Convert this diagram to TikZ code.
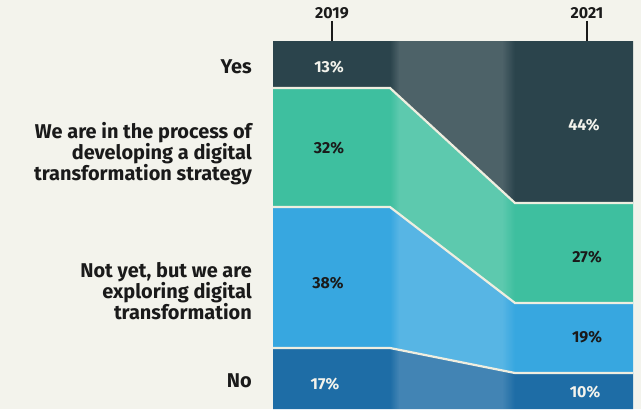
\documentclass[tikz,border=0pt]{standalone}
\usepackage{fontspec}
\setmainfont{Fira Sans}
\usetikzlibrary{fadings}
\definecolor{bgcream}{HTML}{F3F3EC}
\definecolor{sepcream}{HTML}{EFEEE0}
\definecolor{inkdark}{HTML}{1A1A1A}
\definecolor{yesdark}{HTML}{2B444C}
\definecolor{procgreen}{HTML}{3EBF9F}
\definecolor{notblue}{HTML}{37A7E0}
\definecolor{nonavy}{HTML}{1E6DA6}
\tikzfading[name=fadein, left color=transparent!100, right color=transparent!0]
\tikzfading[name=fadeout, left color=transparent!0, right color=transparent!100]

\begin{document}
\begin{tikzpicture}[x=1bp,y=-1bp]
\tikzstyle{every node}=[inner sep=2bp]
\tikzstyle{answer}=[anchor=east,align=right,text=inkdark,font=\fontsize{20}{21}\selectfont\bfseries]
\tikzstyle{pct}=[font=\fontsize{16}{18}\selectfont\bfseries]
\tikzstyle{year}=[text=inkdark,font=\fontsize{16}{18}\selectfont\bfseries]
\tikzstyle{sep}=[draw=sepcream,line width=2.2bp]
\fill[bgcream] (0,0) rectangle (641,409);
\useasboundingbox (0,0) rectangle (641,409);
% the four bands
\fill[yesdark] (273,41) -- (633,41) -- (633,203) -- (515,203) -- (390,88) -- (273,88) -- cycle;
\fill[procgreen] (273,88) -- (390,88) -- (515,203) -- (633,203) -- (633,303) -- (515,303) -- (390,207) -- (273,207) -- cycle;
\fill[notblue] (273,207) -- (390,207) -- (515,303) -- (633,303) -- (633,373) -- (515,373) -- (390,348) -- (273,348) -- cycle;
\fill[nonavy] (273,348) -- (390,348) -- (515,373) -- (633,373) -- (633,409) -- (273,409) -- cycle;
% lighter middle part
\fill[white,opacity=0.16,path fading=fadein] (390,41) rectangle (399,409);
\fill[white,opacity=0.16] (399,41) rectangle (502,409);
\fill[white,opacity=0.16,path fading=fadeout] (502,41) rectangle (515,409);
% separators
\draw[sep] (273,88) -- (390,88) -- (515,203) -- (633,203);
\draw[sep] (273,207) -- (390,207) -- (515,303) -- (633,303);
\draw[sep] (273,348) -- (390,348) -- (515,373) -- (633,373);
% years
\node[year] (y19) at (332,13) {2019};
\node[year] (y21) at (587,13) {2021};
\coordinate (t19) at (332,41);
\coordinate (t21) at (587,41);
\draw[inkdark,line width=2bp] (y19) -- (t19);
\draw[inkdark,line width=2bp] (y21) -- (t21);
% answers
\node[answer] (yes) at (254,67) {Yes};
\node[answer] (proc) at (254,154) {We are in the process of\\developing a digital\\transformation strategy};
\node[answer] (notyet) at (254,291) {Not yet, but we are\\exploring digital\\transformation};
\node[answer] (no) at (254,381) {No};
% values
\node[pct,text=bgcream] (v1) at (329,67) {13\%};
\node[pct,text=inkdark] (v2) at (329,148) {32\%};
\node[pct,text=inkdark] (v3) at (328,283) {38\%};
\node[pct,text=bgcream] (v4) at (325,384) {17\%};
\node[pct,text=bgcream] (w1) at (584,125) {44\%};
\node[pct,text=inkdark] (w2) at (587,257) {27\%};
\node[pct,text=inkdark] (w3) at (587,337) {19\%};
\node[pct,text=bgcream] (w4) at (585,392) {10\%};
\end{tikzpicture}
\end{document}
